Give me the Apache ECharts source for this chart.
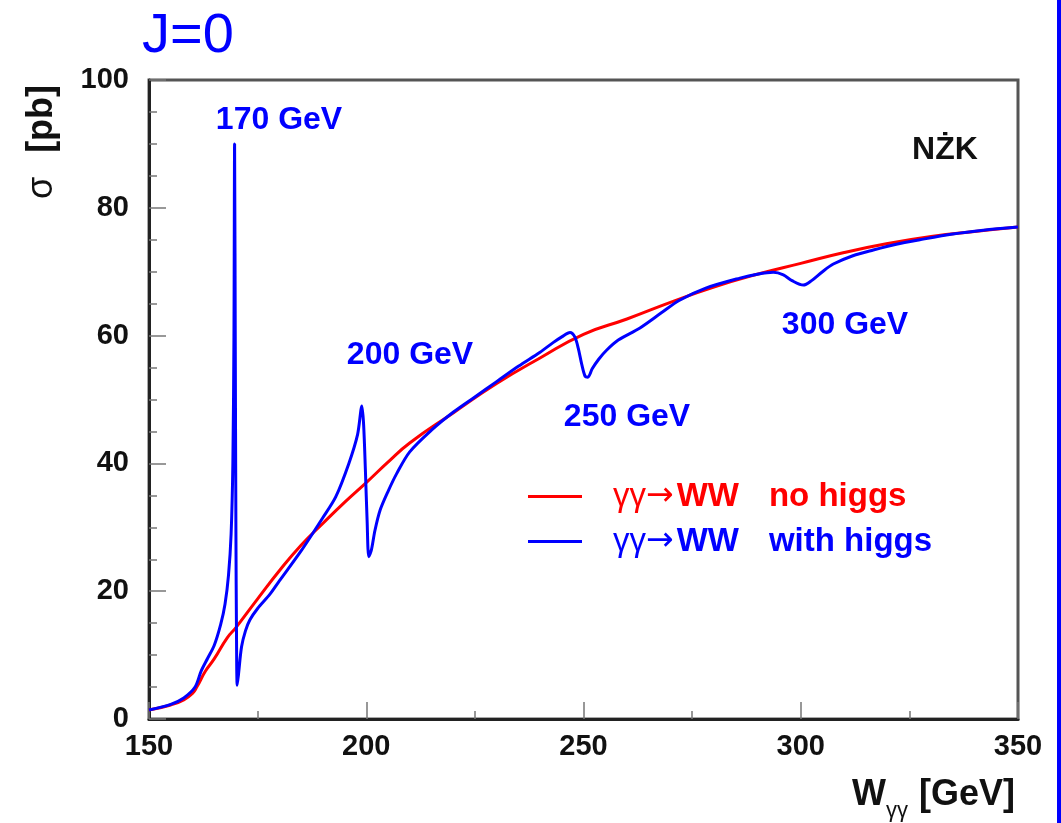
<!DOCTYPE html>
<html lang="en">
  <head>
    <meta charset="UTF-8" />
    <title>gamma gamma to WW</title>
    <style>
      body { margin: 0; background: #fff; }
    </style>
  </head>
  <body>
    <div id="main" style="width: 1061px; height: 823px"></div>
    <script src="https://cdn.jsdelivr.net/npm/echarts@6.0.0/dist/echarts.min.js"></script>
    <script>
      // no higgs
      const redX = [150, 155, 158, 160, 161, 163, 165, 168, 170, 175, 180, 185, 190, 195, 200, 205, 210, 220, 230, 240, 250, 260, 270, 280, 290, 300, 310, 320, 330, 340, 350]
      const redY = [1.4, 2.2, 3.0, 4.0, 5.0, 7.5, 9.4, 12.7, 14.3, 18.8, 23.2, 27.2, 30.6, 33.9, 37.0, 40.2, 43.2, 47.9, 52.5, 56.5, 60.2, 62.6, 65.2, 67.6, 69.6, 71.3, 73.0, 74.4, 75.5, 76.3, 77.0]

      // with higgs
      const blueX = [150, 155, 158, 160.6, 162, 163.5, 165, 166.5, 167.5, 168.3, 168.9, 169.3, 169.55, 169.7, 169.85, 170.0, 170.15, 170.3, 170.6, 171.3, 172.2, 173.2, 175, 177.8, 180, 185, 190, 193, 196, 198, 199, 199.4, 199.8, 200.2, 200.6, 201.2, 202, 203.2, 205, 207, 210, 215, 220, 225, 230, 235, 240, 243, 245, 246.9, 248, 248.8, 249.6, 250.4, 251, 252, 253.5, 255.3, 258, 263, 268, 272, 278, 286, 290, 293.7, 296, 298, 300.6, 302.5, 305, 307.5, 312, 316.7, 322, 327.4, 335, 342, 350]
      const blueY = [1.4, 2.3, 3.3, 5.0, 7.5, 9.5, 11.5, 14.8, 18.0, 22.5, 29, 40, 60, 90, 60, 30, 12, 5.3, 7.0, 11.3, 13.8, 15.5, 17.3, 19.5, 21.6, 26.3, 31.5, 34.8, 40.0, 44.5, 49.0, 46, 39, 31, 25.4, 26.5, 29.5, 32.7, 35.6, 38.4, 41.8, 45.2, 48.0, 50.4, 52.8, 55.2, 57.4, 58.9, 59.8, 60.5, 59.8, 58, 55.5, 53.6, 53.5, 54.8, 56.3, 57.7, 59.3, 61.2, 63.6, 65.5, 67.4, 69.0, 69.6, 69.9, 69.5, 68.6, 67.9, 68.6, 70.0, 71.2, 72.5, 73.4, 74.3, 75.0, 75.9, 76.5, 77.0]

      // resonance labels
      const peakNames = ['170 GeV', '200 GeV', '250 GeV', '300 GeV']

      const FONT = "'Liberation Sans', Arial, sans-serif"
      const RED = '#ff0000'
      const BLUE = '#0000ff'

      const myChart = echarts.init(document.getElementById('main'))

      const zip = (xs, ys) => xs.map((x, i) => [x, ys[i]])

      const labelPos = [
        [279, 120],
        [410, 355],
        [627, 417],
        [845, 325]
      ]

      // legend rich styles for one colour
      const legendRich = (p, color) => ({
        [p + 'g']: { color, fontFamily: FONT, fontSize: 33, padding: [0, 0, 0, 26] },
        [p + 'a']: { color, fontFamily: 'DejaVu Sans', fontSize: 33, padding: [0, 3, 0, 0] },
        [p + 'w']: { color, fontFamily: FONT, fontSize: 33, fontWeight: 'bold' },
        [p + 'n']: { color, fontFamily: FONT, fontSize: 33, fontWeight: 'bold', padding: [0, 0, 0, 30] }
      })

      const option = {
        animation: false,
        grid: {
          left: 149,
          right: 43,
          top: 80,
          bottom: 104,
          show: true,
          borderColor: '#555',
          borderWidth: 3
        },

        xAxis: {
          type: 'value',
          min: 150,
          max: 350,
          interval: 50,
          axisLine: { lineStyle: { color: '#222', width: 3 } },
          axisTick: { inside: true, length: 17, lineStyle: { color: '#777', width: 1.5 } },
          minorTick: { show: true, splitNumber: 2, length: 8, lineStyle: { color: '#777', width: 1.5 } },
          splitLine: { show: false },
          axisLabel: {
            color: '#111',
            fontFamily: FONT,
            fontWeight: 'bold',
            fontSize: 29,
            margin: 13
          }
        },

        yAxis: {
          type: 'value',
          min: 0,
          max: 100,
          interval: 20,
          axisLine: { lineStyle: { color: '#222', width: 3 } },
          axisTick: { inside: true, length: 17, lineStyle: { color: '#777', width: 1.5 } },
          minorTick: { show: true, splitNumber: 4, length: 8, lineStyle: { color: '#777', width: 1.5 } },
          splitLine: { show: false },
          axisLabel: {
            color: '#111',
            fontFamily: FONT,
            fontWeight: 'bold',
            fontSize: 29,
            margin: 20
          }
        },

        legend: {
          left: 528,
          top: 480,
          padding: 0,
          orient: 'vertical',
          itemGap: 12,
          itemWidth: 54,
          itemHeight: 3,
          icon: 'rect',
          selectedMode: false,
          data: ['no higgs', 'with higgs'],
          formatter: name => {
            const p = name === 'no higgs' ? 'r' : 'b'
            return `{${p}g|γγ}{${p}a|→}{${p}w|WW}{${p}n|${name}}`
          },
          textStyle: {
            lineHeight: 32,
            rich: { ...legendRich('r', RED), ...legendRich('b', BLUE) }
          }
        },

        series: [
          {
            name: 'no higgs',
            type: 'line',
            data: zip(redX, redY),
            smooth: 0.5,
            showSymbol: false,
            itemStyle: { color: RED },
            lineStyle: { color: RED, width: 3 },
            z: 2
          },
          {
            name: 'with higgs',
            type: 'line',
            data: zip(blueX, blueY),
            smooth: 0.3,
            showSymbol: false,
            itemStyle: { color: BLUE },
            lineStyle: { color: BLUE, width: 3 },
            z: 3
          }
        ],

        graphic: [
          {
            type: 'text',
            x: 142,
            y: 37,
            style: {
              text: 'J=0',
              font: `normal 56px ${FONT}`,
              fill: BLUE,
              align: 'left',
              verticalAlign: 'middle'
            }
          },
          ...peakNames.map((t, i) => ({
            type: 'text',
            x: labelPos[i][0],
            y: labelPos[i][1],
            style: {
              text: t,
              font: `bold 32px ${FONT}`,
              fill: BLUE,
              align: 'center',
              verticalAlign: 'middle'
            }
          })),
          {
            type: 'text',
            x: 945,
            y: 150,
            style: {
              text: 'NŻK',
              font: `bold 32px ${FONT}`,
              fill: '#111',
              align: 'center',
              verticalAlign: 'middle'
            }
          },
          // y axis title
          {
            type: 'text',
            x: 42,
            y: 142,
            rotation: Math.PI / 2,
            style: {
              text: '{s|σ}{b|[pb]}',
              align: 'center',
              verticalAlign: 'middle',
              rich: {
                s: { font: `normal 36px ${FONT}`, fill: '#111', padding: [0, 24, 0, 0] },
                b: { font: `bold 36px ${FONT}`, fill: '#111' }
              }
            }
          },
          // x axis title
          {
            type: 'text',
            x: 852,
            y: 795,
            style: {
              text: 'W',
              font: `bold 36px ${FONT}`,
              fill: '#111',
              align: 'left',
              verticalAlign: 'middle'
            }
          },
          {
            type: 'text',
            x: 886,
            y: 811,
            style: {
              text: 'γγ',
              font: `normal 22px ${FONT}`,
              fill: '#111',
              align: 'left',
              verticalAlign: 'middle'
            }
          },
          {
            type: 'text',
            x: 1015,
            y: 795,
            style: {
              text: '[GeV]',
              font: `bold 36px ${FONT}`,
              fill: '#111',
              align: 'right',
              verticalAlign: 'middle'
            }
          },
          {
            type: 'rect',
            right: 0,
            top: 0,
            shape: { width: 4, height: 823 },
            style: { fill: BLUE }
          }
        ]
      }

      myChart.setOption(option)
    </script>
  </body>
</html>
